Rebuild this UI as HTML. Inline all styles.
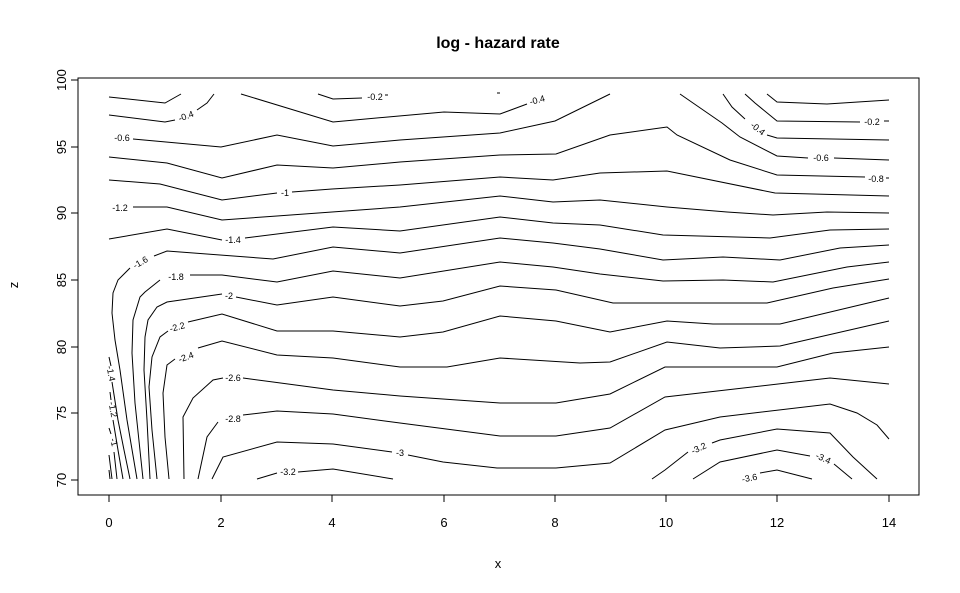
<!DOCTYPE html>
<html><head><meta charset="utf-8"><style>
html,body{margin:0;padding:0;background:#fff;}
svg{display:block;font-family:"Liberation Sans",Arial,sans-serif;}
</style></head><body>
<svg width="960" height="593" viewBox="0 0 960 593" xmlns="http://www.w3.org/2000/svg">
<rect width="960" height="593" fill="#fff"/>
<text x="498" y="48" text-anchor="middle" font-size="16" font-weight="bold">log - hazard rate</text>
<rect x="78" y="78" width="841" height="417" fill="none" stroke="#000" stroke-width="1"/>
<g stroke="#000" stroke-width="1">
<line x1="109" y1="495" x2="109" y2="502"/><line x1="221" y1="495" x2="221" y2="502"/><line x1="332" y1="495" x2="332" y2="502"/><line x1="444" y1="495" x2="444" y2="502"/><line x1="555" y1="495" x2="555" y2="502"/><line x1="666" y1="495" x2="666" y2="502"/><line x1="777" y1="495" x2="777" y2="502"/><line x1="889" y1="495" x2="889" y2="502"/>
<line x1="71" y1="480" x2="78" y2="480"/><line x1="71" y1="413" x2="78" y2="413"/><line x1="71" y1="347" x2="78" y2="347"/><line x1="71" y1="280" x2="78" y2="280"/><line x1="71" y1="213" x2="78" y2="213"/><line x1="71" y1="147" x2="78" y2="147"/><line x1="71" y1="80" x2="78" y2="80"/>
</g>
<g font-size="13" text-anchor="middle">
<text x="109" y="527">0</text><text x="221" y="527">2</text><text x="332" y="527">4</text><text x="444" y="527">6</text><text x="555" y="527">8</text><text x="666" y="527">10</text><text x="777" y="527">12</text><text x="889" y="527">14</text>
<text transform="translate(66,480) rotate(-90)">70</text><text transform="translate(66,413) rotate(-90)">75</text><text transform="translate(66,347) rotate(-90)">80</text><text transform="translate(66,280) rotate(-90)">85</text><text transform="translate(66,213) rotate(-90)">90</text><text transform="translate(66,147) rotate(-90)">95</text><text transform="translate(66,80) rotate(-90)">100</text>
<text x="498" y="568">x</text>
<text transform="translate(18,285) rotate(-90)">z</text>
</g>
<g fill="none" stroke="#000" stroke-width="1">
<path d="M109,97 L165,103 L181,94"/>
<path d="M109,115 L165,122 L175,120 M197,110 L207,103 L214,94"/>
<path d="M241,94 L333,122 L388,117 L444,112 L500,114 L527,104"/>
<path d="M318,94 L333,99 L362,98 M385,95 L388,95 M497,93 L500,93"/>
<path d="M133,139 L221,147 L277,135 L333,146 L400,140 L500,133 L555,121 L610,94"/>
<path d="M109,157 L167,163 L222,178 L277,165 L333,168 L400,162 L500,155 L556,154 L610,135 L667,127 L677,135 L730,160 L777,175 L865,177 M886,178 L889,178"/>
<path d="M767,94 L777,102 L827,104 L889,100"/>
<path d="M745,94 L755,103 L777,121 L860,122 M884,121 L889,121"/>
<path d="M723,94 L732,107 L745,119 M767,135 L777,138 L889,140"/>
<path d="M680,94 L693,103 L722,123 L740,137 L777,156 L808,158 M834,158 L889,160"/>
<path d="M109,180 L160,184 L222,200 L277,193 M292,192 L332,189 L400,185 L500,177 L553,180 L600,173 L667,171 L775,193 L889,196"/>
<path d="M133,207 L167,207 L222,220 L277,216 L332,212 L400,207 L500,196 L553,202 L600,200 L667,207 L727,212 L773,215 L827,212 L889,213"/>
<path d="M109,239 L167,229 L222,240 M245,238 L333,227 L400,231 L500,217 L553,223 L600,225 L663,235 L770,238 L830,230 L889,229"/>
<path d="M137,479 L127,420 L120,370 L115,340 L112,313 L113,293 L118,280 L130,268 M154,256 L167,251 L273,259 L333,247 L400,253 L500,238 L553,243 L600,249 L663,260 L723,257 L780,260 L840,248 L889,245"/>
<path d="M143,479 L135,403 L132,353 L133,320 L140,297 L145,292 L160,280 M190,275 L222,275 L277,282 L333,271 L400,278 L500,262 L553,267 L600,274 L663,281 L723,280 L773,282 L847,267 L889,262"/>
<path d="M150,479 L147,420 L144,370 L145,337 L148,320 L157,307 L167,302 L222,294 M236,297 L277,305 L333,297 L400,306 L443,301 L500,286 L556,290 L613,303 L767,303 L833,288 L889,279"/>
<path d="M157,479 L152,430 L149,387 L152,357 L160,337 L168,331 M188,322 L222,314 L277,331 L333,331 L400,337 L443,332 L500,316 L556,321 L610,332 L667,321 L713,324 L780,324 L889,298"/>
<path d="M169,479 L165,437 L163,393 L167,365 L175,359 M198,348 L222,341 L277,355 L333,358 L400,367 L447,367 L500,358 L580,363 L610,362 L667,342 L720,348 L780,346 L889,321"/>
<path d="M184,479 L183,417 L193,398 L213,380 L223,378 M243,378 L333,390 L400,396 L500,403 L556,403 L610,394 L665,367 L777,367 L833,353 L889,347"/>
<path d="M198,479 L207,437 L218,422 M243,415 L277,411 L333,414 L400,423 L500,436 L556,436 L610,428 L665,397 L830,378 L889,384"/>
<path d="M212,479 L223,457 L277,442 L333,444 L392,452 M408,455 L443,462 L497,468 L556,468 L610,463 L665,430 L720,417 L830,404 L857,413 L877,425 L889,439"/>
<path d="M257,479 L277,473 M298,472 L333,469 L393,479"/>
<path d="M652,479 L665,470 L688,452 M712,443 L720,440 L777,429 L830,433 L853,457 L877,479"/>
<path d="M693,479 L720,462 L777,450 L810,456 M834,464 L852,479"/>
<path d="M760,473 L777,470 L812,479"/>
<path d="M109,357 L111,366 M112,382 L118,420 L124,450 L130,479"/>
<path d="M110,392 L111,400 M113,420 L118,450 L123,479"/>
<path d="M109,428 L111,434 M114,452 L117,479"/>
<path d="M109,455 L112,479"/>
<path d="M109,470 L110,479"/>
</g>
<g font-size="9" text-anchor="middle">
<text transform="translate(187,119) rotate(-20)">-0.4</text>
<text transform="translate(538,103) rotate(-15)">-0.4</text>
<text x="375" y="100">-0.2</text>
<text x="122" y="141">-0.6</text>
<text x="876" y="182">-0.8</text>
<text x="872" y="125">-0.2</text>
<text transform="translate(756,131) rotate(38)">-0.4</text>
<text x="821" y="161">-0.6</text>
<text x="285" y="196">-1</text>
<text x="120" y="211">-1.2</text>
<text x="233" y="243">-1.4</text>
<text transform="translate(142,265) rotate(-30)">-1.6</text>
<text x="176" y="280">-1.8</text>
<text x="229" y="299">-2</text>
<text transform="translate(178,330) rotate(-15)">-2.2</text>
<text transform="translate(187,360) rotate(-20)">-2.4</text>
<text x="233" y="381">-2.6</text>
<text x="233" y="422">-2.8</text>
<text x="400" y="456">-3</text>
<text x="288" y="475">-3.2</text>
<text transform="translate(700,451) rotate(-25)">-3.2</text>
<text transform="translate(822,461) rotate(25)">-3.4</text>
<text transform="translate(750,481) rotate(-10)">-3.6</text>
<text transform="translate(108,374) rotate(80)">-1.4</text>
<text transform="translate(110,410) rotate(80)">-1.2</text>
<text transform="translate(111,443) rotate(75)">-1</text>
</g>
</svg>
</body></html>
